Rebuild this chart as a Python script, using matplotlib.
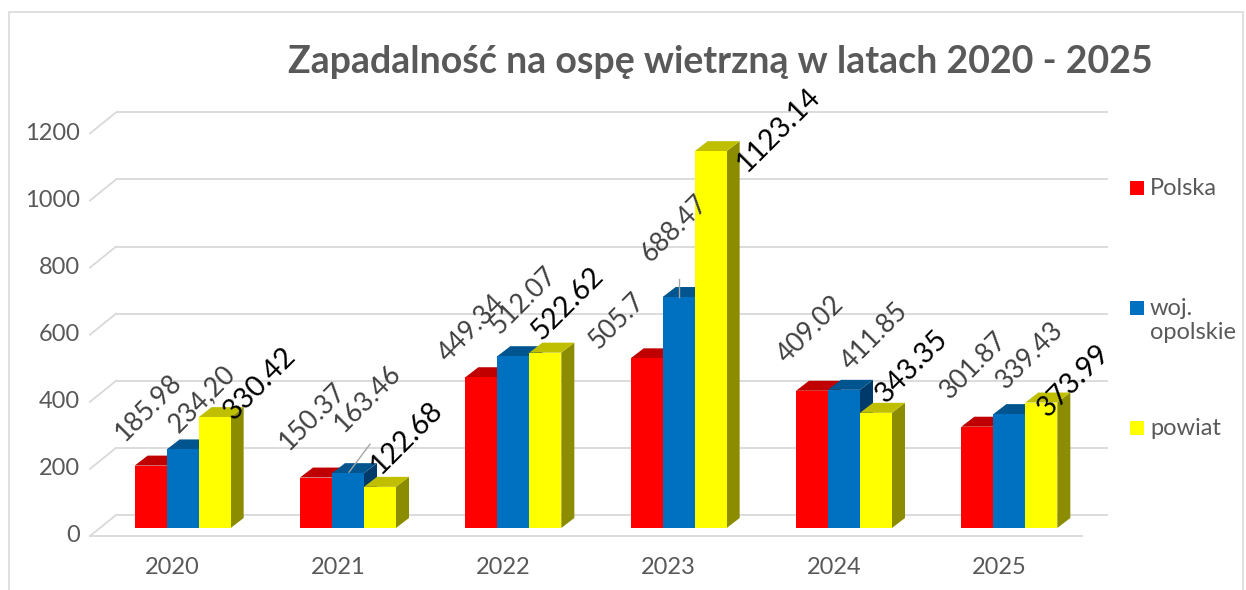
import matplotlib
matplotlib.use("Agg")
import matplotlib.pyplot as plt
from matplotlib.patches import Polygon, Rectangle

# dane
lata = ["2020", "2021", "2022", "2023", "2024", "2025"]
serie = ["Polska", "woj.\nopolskie", "powiat"]
polska = [185.98, 150.37, 449.34, 505.7, 409.02, 301.87]
opolskie = [234.20, 163.46, 512.07, 688.47, 411.85, 339.43]
powiat = [330.42, 122.68, 522.62, 1123.14, 343.35, 373.99]
etykiety_polska = ["185.98", "150.37", "449.34", "505.7", "409.02", "301.87"]
etykiety_opolskie = ["234,20", "163.46", "512.07", "688.47", "411.85", "339.43"]
etykiety_powiat = ["330.42", "122.68", "522.62", "1123.14", "343.35", "373.99"]
y_ticks = [0, 200, 400, 600, 800, 1000, 1200]

# wyglad
kolory = ["#ff0000", "#0070c0", "#ffff00"]
kolory_gora = ["#c00000", "#00558f", "#bfbf00"]
kolory_bok = ["#8f0000", "#003a6b", "#8c8c00"]
szary = "#595959"
siatka = "#d9d9d9"
FONT = "Lato"

# przesuniecia etykiet w pikselach (x w prawo, y w dol) wzgledem gory slupka
przes_polska = [(-2, -58), (-3, -61), (-10, -49), (-30, -37), (-1, -61), (-4, -61)]
przes_opolskie = [(19, -51), (20, -75), (10, -56), (-4, -69), (31, -53), (21, -59)]
przes_powiat = [(45, -34), (27, -49), (22, -49), (68, -21), (36, -46), (32, -22)]

W, H = 1246, 590
fig = plt.figure(figsize=(W / 100, H / 100), dpi=100)

# ramka wykresu
fig.patches.append(Rectangle((9 / W, -0.1), (1243 - 9) / W, (H - 12) / H + 0.1,
                             transform=fig.transFigure, fill=False,
                             edgecolor=siatka, linewidth=1.2))

ax_left, ax_w = 100, 992
ax_bottom = 62
ymax = 1300
px_per_unit = 0.3355
ax_h = ymax * px_per_unit
ax = fig.add_axes([ax_left / W, ax_bottom / H, ax_w / W, ax_h / H])
ax.set_xlim(-0.5, 5.5)
ax.set_ylim(0, ymax)
ax.axis("off")

sx = ax_w / 6.0          # piksele na jednostke x
sy = px_per_unit         # piksele na jednostke y


def px(dx, dy):
    return dx / sx, dy / sy


# sciana tylna + siatka
bx, by = px(16, 13)
fx, fy = px(-10, -8)
for v in y_ticks:
    ax.plot([-0.5 + bx, 5.5 + bx], [v + by, v + by], color=siatka, lw=1.3,
            zorder=1, clip_on=False, solid_capstyle="butt")
    ax.plot([-0.5 + fx, -0.5 + bx], [v + fy, v + by], color=siatka, lw=1.3,
            zorder=1, clip_on=False)
    ax.text(-0.5 + fx - 10 / sx, v + fy, str(v), ha="right", va="center",
            fontsize=17, color=szary, family=FONT)
ax.plot([-0.5 + fx, 5.5 + fx], [fy, fy], color=siatka, lw=1.3, zorder=1,
        clip_on=False)

for i, rok in enumerate(lata):
    ax.text(i + fx, fy - 31 / sy, rok, ha="center", va="center",
            fontsize=17, color=szary, family=FONT)

# slupki 3D
bw = 32 / sx
ddx, ddy = px(13, 10)
dane = [polska, opolskie, powiat]
etykiety = [etykiety_polska, etykiety_opolskie, etykiety_powiat]
przes = [przes_polska, przes_opolskie, przes_powiat]
k = 0
for i in range(len(lata)):
    for s in range(3):
        v = dane[s][i]
        x0 = i + (s - 1.5) * bw
        z = 3 + k * 0.1
        k += 1
        ax.add_patch(Polygon([(x0 + bw, 0), (x0 + bw + ddx, ddy),
                              (x0 + bw + ddx, v + ddy), (x0 + bw, v)],
                             closed=True, facecolor=kolory_bok[s], lw=0,
                             zorder=z, clip_on=False))
        ax.add_patch(Polygon([(x0, v), (x0 + bw, v), (x0 + bw + ddx, v + ddy),
                              (x0 + ddx, v + ddy)],
                             closed=True, facecolor=kolory_gora[s], lw=0,
                             zorder=z, clip_on=False))
        ax.bar(x0, v, width=bw, align="edge", color=kolory[s], lw=0,
               zorder=z, clip_on=False)

# etykiety danych
for s in range(3):
    for i in range(len(lata)):
        v = dane[s][i]
        xc = i + (s - 1) * bw
        dx, dy = przes[s][i]
        if s == 2:
            kol, rozm = "black", 20.5
        else:
            kol, rozm = "#404040", 19
        ax.annotate(etykiety[s][i], (xc, v), xytext=(dx * 0.72, -dy * 0.72),
                    textcoords="offset points", rotation=45,
                    rotation_mode="anchor", ha="center", va="center",
                    fontsize=rozm, color=kol, family=FONT,
                    zorder=10, annotation_clip=False)

# linie odniesienia (woj. opolskie 2021 i 2023)
for i, (a, b) in [(1, ((1, -1), (22, -29))), (3, ((0, -0), (0, -18)))]:
    v = opolskie[i]
    xc = i
    ax.plot([xc + a[0] / sx, xc + b[0] / sx], [v - a[1] / sy, v - b[1] / sy],
            color="#a6a6a6", lw=1.0, zorder=9, clip_on=False)

# legenda
leg_y = [188, 308, 428]
for s in range(3):
    yy = 1 - leg_y[s] / H
    fig.patches.append(Rectangle(((1130) / W, yy - 7 / H), 14 / W, 14 / H,
                                 transform=fig.transFigure,
                                 facecolor=kolory[s], lw=0))
    fig.text(1150 / W, yy + 10 / H, serie[s], ha="left", va="top",
             fontsize=17, color=szary, family=FONT, linespacing=1.15)

# tytul
fig.text(720 / W, 1 - 62 / H, "Zapadalność na ospę wietrzną w latach 2020 - 2025",
         ha="center", va="center", fontsize=27, fontweight="bold",
         color=szary, family=FONT)

fig.savefig("out.png", dpi=100)
